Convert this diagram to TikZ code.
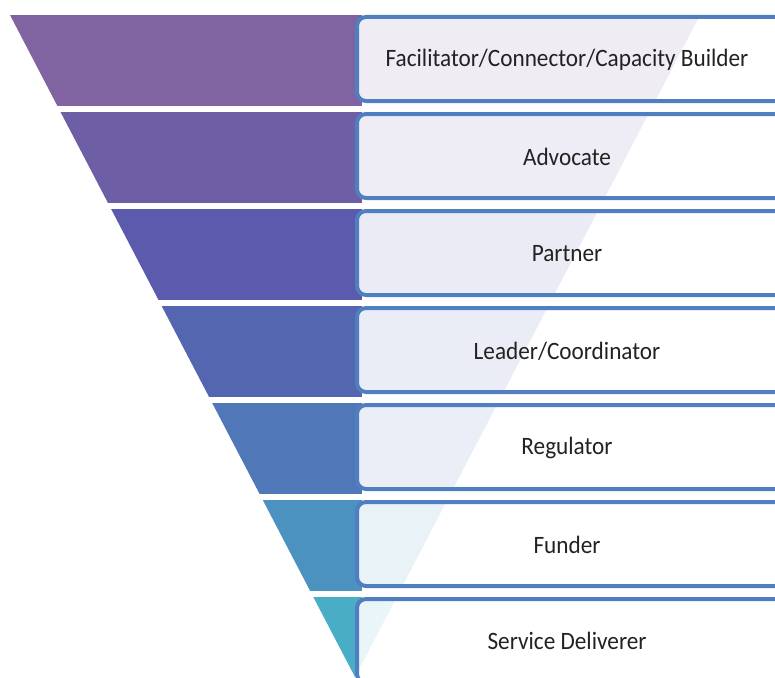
\documentclass[tikz,border=0pt]{standalone}
\usepackage{fontspec}
\setmainfont{Carlito}
\definecolor{c1}{HTML}{8064A2}
\definecolor{c2}{HTML}{6E5EA5}
\definecolor{c3}{HTML}{5B5AAC}
\definecolor{c4}{HTML}{5566B0}
\definecolor{c5}{HTML}{5078B8}
\definecolor{c6}{HTML}{4B92C0}
\definecolor{c7}{HTML}{4AADC6}
\definecolor{boxblue}{HTML}{4F7FC0}
\definecolor{txt}{HTML}{222222}
\begin{document}
\begin{tikzpicture}[x=1pt,y=-1pt,
  boxline/.style={draw=boxblue, line width=4pt, rounded corners=9pt},
  lbl/.style={font=\fontsize{25}{29}\selectfont, text=txt, inner sep=0pt, xscale=0.93}]
\useasboundingbox (0,0) rectangle (775,677);
\clip (0,0) rectangle (775,677);
% bands of the inverted triangle
\foreach \i in {0,...,6}{
  \pgfmathsetmacro\yt{15+97*\i}
  \pgfmathsetmacro\yb{\yt+91}
  \pgfmathtruncatemacro\k{\i+1}
  \begin{scope}
    \clip (10,15) -- (700,15) -- (355,677) -- cycle;
    \fill[c\k] (0,\yt) rectangle (362,\yb);
  \end{scope}
}
% boxes
\foreach \i in {0,...,6}{
  \pgfmathsetmacro\yt{17+97*\i}
  \pgfmathsetmacro\yb{\yt+84}
  \pgfmathtruncatemacro\k{\i+1}
  \fill[white, rounded corners=9pt] (357,\yt) rectangle (800,\yb);
  \begin{scope}
    \clip[rounded corners=9pt] (357,\yt) rectangle (800,\yb);
    \fill[c\k!12] (10,15) -- (700,15) -- (355,677) -- cycle;
  \end{scope}
  \path[boxline] (357,\yt) rectangle (800,\yb);
}
\node[lbl] (t1) at (567,60) {Facilitator/Connector/Capacity Builder};
\node[lbl] (t2) at (567,157) {Advocate};
\node[lbl] (t3) at (567,254) {Partner};
\node[lbl] (t4) at (567,351) {Leader/Coordinator};
\node[lbl] (t5) at (567,448) {Regulator};
\node[lbl] (t6) at (567,545) {Funder};
\node[lbl] (t7) at (567,641) {Service Deliverer};
\end{tikzpicture}
\end{document}
